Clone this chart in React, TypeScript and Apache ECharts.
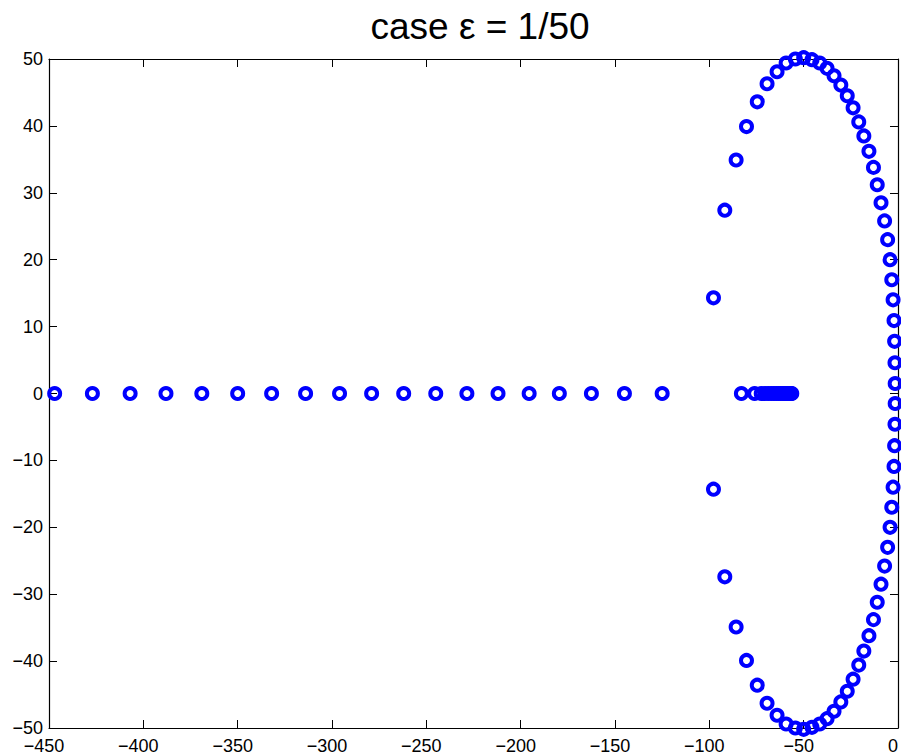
import React, { useEffect, useRef } from "react";
import * as echarts from "echarts";

const titleText = "case ε = 1/50";

// points on the real axis
const realX = [
  -447, -427, -407, -388, -369, -350, -332, -314, -296, -279, -262, -245,
  -228.5, -212, -195.5, -179.5, -162.5, -145, -125,
  -83, -76, -72.5, -70.5, -68.8, -67.2, -65.8, -64.5, -63.3, -62.2, -61.2,
  -60.3, -59.5, -58.8, -58.2, -57.6, -57.1, -56.7, -56.3,
];

// upper complex branch (x, y)
const upperX = [
  -97.8, -91.8, -85.8, -80.3, -74.6, -69.4, -64.1, -59.3, -54.4, -50.0,
  -45.6, -41.5, -37.6, -33.9, -30.3, -26.9, -23.8, -20.8, -18.1, -15.4,
  -13.0, -11.0, -9.0, -7.1, -5.5, -4.2, -3.3, -2.6, -2.1, -1.8, -1.6, -1.5,
];
const upperY = [
  14.3, 27.4, 34.9, 39.9, 43.6, 46.3, 48.1, 49.4, 50.0, 50.2, 49.9, 49.4,
  48.6, 47.5, 46.1, 44.5, 42.7, 40.6, 38.5, 36.2, 33.8, 31.2, 28.5, 25.8,
  23.0, 20.0, 17.0, 14.0, 10.9, 7.8, 4.6, 1.5,
];
// lower complex branch (conjugates)
const lowerX = [
  -97.8, -91.8, -85.8, -80.3, -74.6, -69.4, -64.1, -59.3, -54.4, -50.0,
  -45.6, -41.5, -37.6, -33.9, -30.3, -26.9, -23.8, -20.8, -18.1, -15.4,
  -13.0, -11.0, -9.0, -7.1, -5.5, -4.2, -3.3, -2.6, -2.1, -1.8, -1.6, -1.5,
];
const lowerY = [
  -14.3, -27.4, -34.9, -39.9, -43.6, -46.3, -48.1, -49.4, -50.0, -50.2,
  -49.9, -49.4, -48.6, -47.5, -46.1, -44.5, -42.7, -40.6, -38.5, -36.2,
  -33.8, -31.2, -28.5, -25.8, -23.0, -20.0, -17.0, -14.0, -10.9, -7.8,
  -4.6, -1.5,
];

const xMin = -450;
const xMax = 0;
const xStep = 50;
const yMin = -50;
const yMax = 50;
const yStep = 10;

const minus = (v: number) => String(v).replace("-", "\u2212");

export default function App() {
  const ref = useRef<HTMLDivElement>(null);
  useEffect(() => {
    if (!ref.current) return;
    const chart = echarts.init(ref.current, undefined, { renderer: "svg" });
    const data: number[][] = [];
    realX.forEach((x) => data.push([x, 0]));
    upperX.forEach((x, i) => data.push([x, upperY[i]]));
    lowerX.forEach((x, i) => data.push([x, lowerY[i]]));

    const font = "'Liberation Sans', Arial, Helvetica, sans-serif";
    const axisCommon = {
      axisLine: { show: true, onZero: false, lineStyle: { color: "#000", width: 1.2 } },
      axisTick: { show: true, inside: true, length: 8, lineStyle: { color: "#000", width: 1 } },
      splitLine: { show: false },
    };
    chart.setOption({
      animation: false,
      backgroundColor: "#fff",
      title: {
        text: titleText,
        left: 475,
        textAlign: "center",
        top: 3,
        textStyle: { fontFamily: font, fontSize: 37, fontWeight: "normal", color: "#000" },
      },
      grid: { left: 49, right: 1.5, top: 59, bottom: 26, containLabel: false },
      xAxis: [
        {
          type: "value",
          min: xMin,
          max: xMax,
          interval: xStep,
          position: "bottom",
          ...axisCommon,
          axisLabel: {
            fontFamily: font,
            fontSize: 18,
            color: "#000",
            margin: 9,
            padding: [0, 10, 0, 0],
            formatter: (v: number) => minus(v),
          },
        },
        {
          type: "value",
          min: xMin,
          max: xMax,
          interval: xStep,
          position: "top",
          ...axisCommon,
          axisLabel: { show: false },
        },
      ],
      yAxis: [
        {
          type: "value",
          min: yMin,
          max: yMax,
          interval: yStep,
          position: "left",
          ...axisCommon,
          axisLabel: {
            fontFamily: font,
            fontSize: 18,
            color: "#000",
            margin: 6,
            formatter: (v: number) => minus(v),
          },
        },
        {
          type: "value",
          min: yMin,
          max: yMax,
          interval: yStep,
          position: "right",
          ...axisCommon,
          axisLabel: { show: false },
        },
      ],
      series: [
        {
          type: "scatter",
          xAxisIndex: 0,
          yAxisIndex: 0,
          data,
          symbol: "circle",
          symbolSize: 11,
          clip: false,
          itemStyle: {
            color: "rgba(0,0,0,0)",
            borderColor: "#0000ff",
            borderWidth: 4,
            opacity: 1,
          },
          emphasis: { disabled: true },
        },
      ],
    });
    return () => chart.dispose();
  }, []);
  return <div ref={ref} style={{ width: 901, height: 755, position: "absolute", left: 0, top: 0 }} />;
}
